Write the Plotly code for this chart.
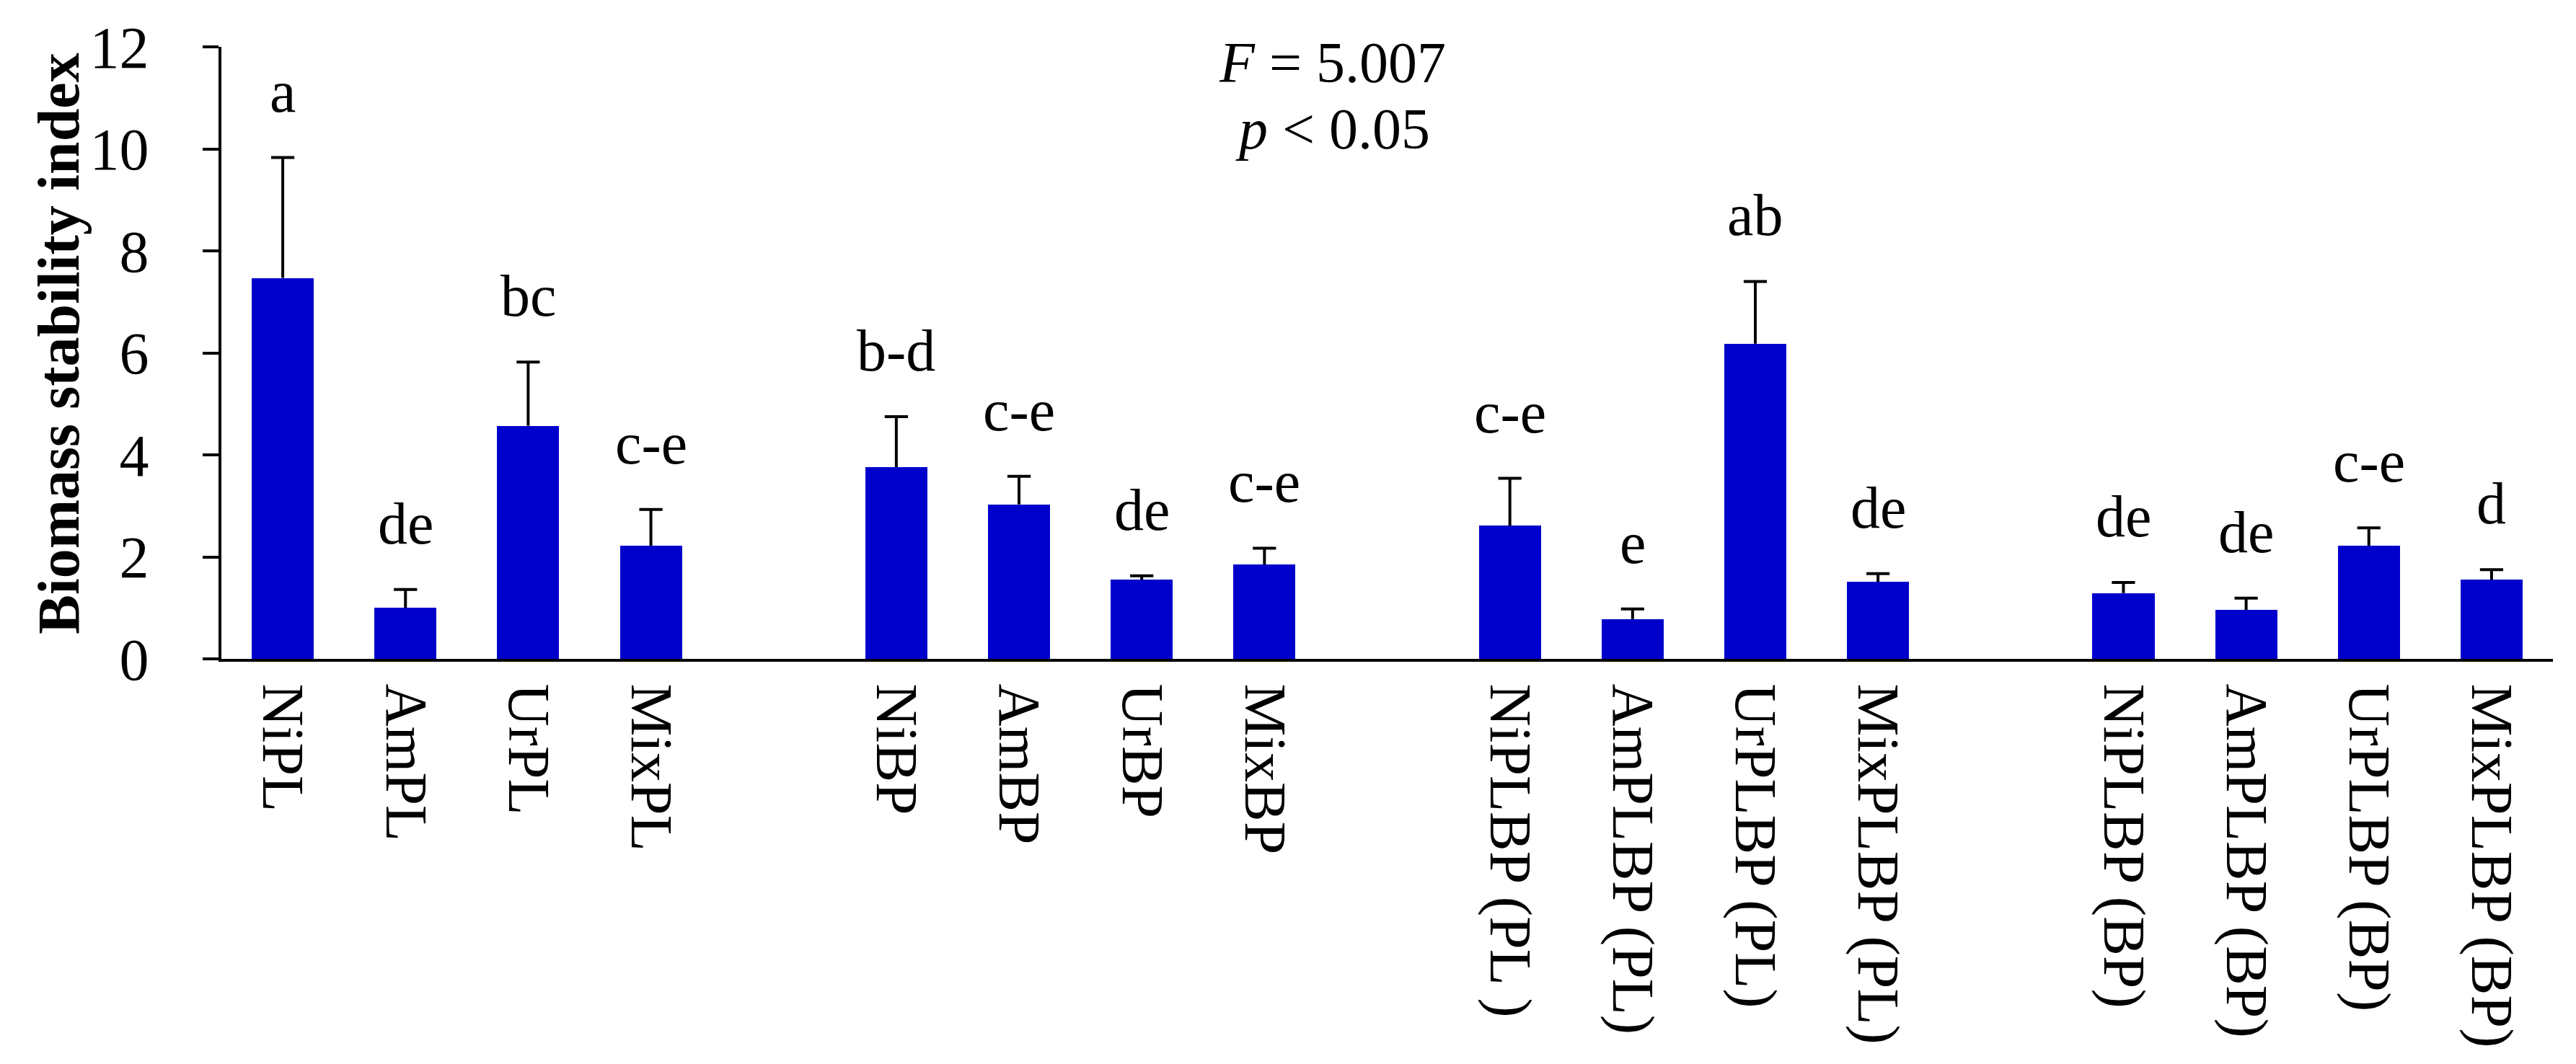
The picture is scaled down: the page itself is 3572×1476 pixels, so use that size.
import plotly.graph_objects as go

categories = ["NiPL", "AmPL", "UrPL", "MixPL",
              "NiBP", "AmBP", "UrBP", "MixBP",
              "NiPLBP (PL )", "AmPLBP (PL)", "UrPLBP (PL)", "MixPLBP (PL)",
              "NiPLBP (BP)", "AmPLBP (BP)", "UrPLBP (BP)", "MixPLBP (BP)"]
values = [7.47, 1.00, 4.57, 2.22,
          3.76, 3.03, 1.55, 1.85,
          2.61, 0.78, 6.18, 1.51,
          1.29, 0.96, 2.22, 1.55]
errors = [2.36, 0.36, 1.25, 0.71,
          0.99, 0.55, 0.08, 0.32,
          0.93, 0.20, 1.22, 0.16,
          0.21, 0.23, 0.35, 0.20]
letters = ["a", "de", "bc", "c-e",
           "b-d", "c-e", "de", "c-e",
           "c-e", "e", "ab", "de",
           "de", "de", "c-e", "d"]
y_ticks = [0, 2, 4, 6, 8, 10, 12]

# four groups of four bars separated by one empty slot
positions = [g * 5 + i for g in range(4) for i in range(4)]

FONT = "Liberation Serif, Times New Roman, serif"
BLUE = "#0000CC"

fig = go.Figure()
fig.add_trace(go.Bar(x=positions, y=values, width=0.506,
                     marker=dict(color=BLUE, line=dict(width=0)),
                     showlegend=False, hoverinfo="skip"))

# upper-only error bars: stems + caps derived from the data
stem_x, stem_y = [], []
for p, v, e in zip(positions, values, errors):
    stem_x += [p, p, None]
    stem_y += [v, v + e, None]
fig.add_trace(go.Scatter(x=stem_x, y=stem_y, mode="lines",
                         line=dict(color="black", width=4),
                         showlegend=False, hoverinfo="skip"))
fig.add_trace(go.Scatter(x=positions, y=[v + e for v, e in zip(values, errors)],
                         mode="markers",
                         marker=dict(symbol="line-ew", size=23,
                                     line=dict(color="black", width=4)),
                         showlegend=False, hoverinfo="skip"))

for p, v, e, t in zip(positions, values, errors, letters):
    fig.add_annotation(x=p, y=v + e, text=t, showarrow=False,
                       yanchor="bottom", xanchor="center", yshift=44,
                       font=dict(family=FONT, size=82, color="black"))

fig.add_annotation(xref="paper", yref="paper", x=0.4766, y=0.92,
                   text="<i>F</i> = 5.007", showarrow=False,
                   xanchor="center", yanchor="bottom",
                   font=dict(family=FONT, size=80, color="black"))
fig.add_annotation(xref="paper", yref="paper", x=0.4766, y=0.812,
                   text="<i>p</i> < 0.05", showarrow=False,
                   xanchor="center", yanchor="bottom",
                   font=dict(family=FONT, size=80, color="black"))

# y-axis title
fig.add_annotation(xref="paper", yref="paper", x=-0.0696, y=0.515,
                   text="<b>Biomass stability index</b>", showarrow=False,
                   textangle=-90, xanchor="center", yanchor="middle",
                   font=dict(family=FONT, size=82, color="black"))

fig.update_layout(
    width=3572, height=1476,
    margin=dict(l=299, r=40, t=57, b=570),
    paper_bgcolor="white", plot_bgcolor="white",
    font=dict(family=FONT, color="black"),
    bargap=0,
)
fig.update_xaxes(range=[-0.5, 18.5], tickvals=positions, ticktext=categories,
                 tickangle=90, ticks="", showline=True, linecolor="black",
                 linewidth=4, showgrid=False, zeroline=False,
                 tickfont=dict(family=FONT, size=82, color="black"),
                 ticklabelstandoff=14)
fig.update_yaxes(range=[0, 12], tickvals=y_ticks, ticks="outside", ticklen=22,
                 tickwidth=4, tickcolor="black", showline=True,
                 linecolor="black", linewidth=4, showgrid=False,
                 zeroline=False,
                 tickfont=dict(family=FONT, size=82, color="black"),
                 ticklabelstandoff=58)

fig.write_html("out.html")
